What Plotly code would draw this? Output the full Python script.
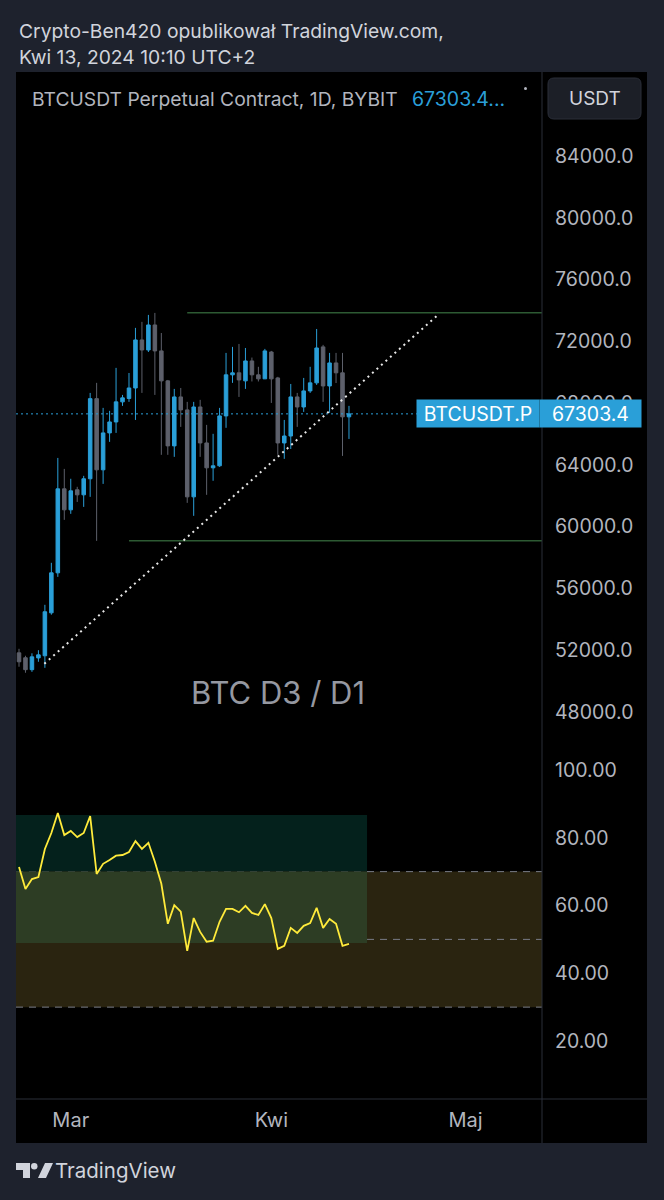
import plotly.graph_objects as go
import pandas as pd

W, H = 664, 1200
def X(p): return p / W
def Y(p): return 1 - p / H

FONT = "Inter"
UP = "#2a9fd8"
DOWN = "#5d606b"
TXT = "#b2b5be"
PAGE = "#1e222d"
GRIDLINE = "#2a2e39"

# ---------------- data ----------------
dates = pd.date_range("2024-02-22", periods=52, freq="D")
opens = [51830, 51510, 50740, 51500, 51640, 54420, 57010, 62450, 61090, 62390,
         62060, 63100, 68290, 63680, 66070, 66780, 68080, 68300, 68980, 72090,
         71440, 73060, 71380, 69440, 65230, 68400, 67560, 61930, 67750, 65420,
         63810, 63940, 67170, 69830, 69960, 69440, 70730, 69830, 69570, 71310,
         69630, 65420, 65870, 68400, 67750, 68790, 69310, 71640, 69110, 70600,
         69960, 67110]
highs = [52090, 51640, 51800, 52000, 54940, 57660, 64450, 63740, 63100, 62580,
         63290, 68660, 69310, 67690, 67500, 70280, 68530, 69950, 72870, 73260,
         73710, 73840, 72540, 69500, 68920, 68980, 68080, 68080, 68210, 66590,
         66010, 67690, 71250, 71640, 71830, 71570, 70950, 70350, 71510, 71380,
         69700, 66910, 69240, 68660, 69630, 70350, 72800, 71770, 71250, 71250,
         71250, 67820]
lows = [50930, 50540, 50600, 51250, 50860, 54300, 56750, 60440, 60830, 61600,
        61280, 61930, 59080, 62770, 65490, 66070, 67820, 68080, 66910, 68660,
        71310, 68530, 64650, 64650, 64520, 66460, 61540, 60700, 64520, 62060,
        62970, 63870, 66400, 69310, 68400, 68920, 69400, 69400, 69570, 68010,
        64650, 64390, 65030, 66460, 67430, 68660, 69180, 68080, 67370, 69300,
        64580, 65680]
closes = [51250, 50740, 51570, 51700, 54490, 57010, 62450, 61090, 62320, 62060,
          63100, 68290, 63680, 66070, 66780, 68080, 68340, 68980, 72090, 71440,
          73060, 71380, 69440, 65230, 68400, 67560, 61930, 67750, 65420, 63810,
          63940, 67170, 69830, 69960, 69500, 70730, 69830, 69570, 71380, 69570,
          65420, 65870, 68400, 67750, 68790, 69310, 71570, 69110, 70600, 69960,
          67110, 67303.4]
rsi = [71.4, 64.9, 67.8, 68.4, 76.7, 81.4, 87.3, 80.8, 82.0, 80.2,
       81.4, 86.4, 69.3, 72.3, 73.4, 74.7, 74.9, 75.8, 79.0, 76.7,
       78.5, 72.9, 66.4, 54.6, 60.1, 58.2, 46.6, 56.3, 52.2, 49.3,
       49.6, 55.2, 59.0, 59.0, 58.0, 59.9, 57.8, 57.2, 60.4, 56.3,
       47.2, 48.1, 53.4, 51.9, 54.0, 54.8, 59.3, 53.4, 56.0, 54.6,
       48.1, 48.7]

last_price = 67303.4
price_ticks = [48000, 52000, 56000, 60000, 64000, 68000, 72000, 76000, 80000, 84000]
rsi_ticks = [20, 40, 60, 80, 100]
rsi_levels = [70, 50, 30]
rsi_band = [30, 70]
month_ticks = ["2024-03-01", "2024-04-01", "2024-05-01"]
month_labels = ["Mar", "Kwi", "Maj"]

x_range = ["2024-02-21 12:52", "2024-05-12 20:00"]
price_range = [46510, 89439]
rsi_range = [2.88, 110.33]

# drawings
resistance = 73850
resistance_start = "2024-03-19"
support = 59080
support_start = "2024-03-10"
trend_x = ["2024-02-25 22:00", "2024-04-26 18:00"]
trend_y = [51120, 73710]
rsi_box_x = ["2024-02-21 12:52", "2024-04-15 19:00"]
rsi_box_y = [48.9, 86.7]

fig = go.Figure()

fig.add_trace(go.Scatter(x=[resistance_start, x_range[1]], y=[resistance, resistance],
                         mode="lines", line=dict(color="#2d5a33", width=1.5),
                         hoverinfo="skip", showlegend=False))
fig.add_trace(go.Scatter(x=[support_start, x_range[1]], y=[support, support],
                         mode="lines", line=dict(color="#2d5a33", width=1.5),
                         hoverinfo="skip", showlegend=False))
fig.add_trace(go.Scatter(x=x_range, y=[last_price, last_price], mode="lines",
                         line=dict(color=UP, width=1, dash="2px,3px"),
                         hoverinfo="skip", showlegend=False))

fig.add_trace(go.Candlestick(
    x=dates, open=opens, high=highs, low=lows, close=closes,
    increasing=dict(line=dict(color=UP, width=1), fillcolor=UP),
    decreasing=dict(line=dict(color=DOWN, width=1), fillcolor=DOWN),
    whiskerwidth=0, hoverinfo="skip", showlegend=False))

fig.add_trace(go.Scatter(x=trend_x, y=trend_y, mode="lines",
                         line=dict(color="#e8e8e8", width=2, dash="2px,4px"),
                         hoverinfo="skip", showlegend=False))

fig.add_trace(go.Scatter(x=dates, y=rsi, mode="lines", xaxis="x2", yaxis="y2",
                         line=dict(color="#ffeb3b", width=1.8),
                         hoverinfo="skip", showlegend=False))

shapes = []
shapes.append(dict(type="rect", xref="paper", yref="paper", x0=X(16), x1=X(647),
                   y0=Y(1143), y1=Y(72), fillcolor="#000000", line_width=0, layer="below"))
shapes.append(dict(type="rect", xref="x2 domain", yref="y2", x0=0, x1=1,
                   y0=rsi_band[0], y1=rsi_band[1], fillcolor="#2a2410", line_width=0, layer="below"))
shapes.append(dict(type="rect", xref="x2", yref="y2", x0=rsi_box_x[0], x1=rsi_box_x[1],
                   y0=max(rsi_box_y[0], rsi_band[1]), y1=rsi_box_y[1],
                   fillcolor="#04211c", line_width=0, layer="below"))
shapes.append(dict(type="rect", xref="x2", yref="y2", x0=rsi_box_x[0], x1=rsi_box_x[1],
                   y0=max(rsi_box_y[0], rsi_band[0]), y1=min(rsi_box_y[1], rsi_band[1]),
                   fillcolor="#2d3d24", line_width=0, layer="below"))
for lv in rsi_levels:
    shapes.append(dict(type="line", xref="x2 domain", yref="y2", x0=0, x1=1, y0=lv, y1=lv,
                       line=dict(color="#787b86", width=1, dash="7px,6px"), layer="below"))
shapes.append(dict(type="line", xref="paper", yref="paper", x0=X(542), x1=X(542),
                   y0=Y(1143), y1=Y(72), line=dict(color=GRIDLINE, width=1)))
shapes.append(dict(type="line", xref="paper", yref="paper", x0=X(16), x1=X(647),
                   y0=Y(1099), y1=Y(1099), line=dict(color=GRIDLINE, width=1)))

def rrect(x0, y0, x1, y1, r):
    return (f"M {X(x0+r)},{Y(y0)} L {X(x1-r)},{Y(y0)} Q {X(x1)},{Y(y0)} {X(x1)},{Y(y0+r)} "
            f"L {X(x1)},{Y(y1-r)} Q {X(x1)},{Y(y1)} {X(x1-r)},{Y(y1)} "
            f"L {X(x0+r)},{Y(y1)} Q {X(x0)},{Y(y1)} {X(x0)},{Y(y1-r)} "
            f"L {X(x0)},{Y(y0+r)} Q {X(x0)},{Y(y0)} {X(x0+r)},{Y(y0)} Z")
shapes.append(dict(type="path", xref="paper", yref="paper", path=rrect(548, 78, 641, 119, 6),
                   fillcolor="#1c1f27", line=dict(color="#2a2e39", width=1)))
shapes.append(dict(type="circle", xref="paper", yref="paper", x0=X(524), x1=X(527),
                   y0=Y(90), y1=Y(87), fillcolor="#b2b5be", line_width=0))
def poly(pts):
    return "M " + " L ".join(f"{X(a)},{Y(b)}" for a, b in pts) + " Z"
shapes.append(dict(type="path", xref="paper", yref="paper",
                   path=poly([(16, 1163), (30, 1163), (30, 1178), (23, 1178), (23, 1170), (16, 1170)]),
                   fillcolor="#d1d4dc", line_width=0))
shapes.append(dict(type="circle", xref="paper", yref="paper", x0=X(31), x1=X(37.5),
                   y0=Y(1169.5), y1=Y(1163), fillcolor="#d1d4dc", line_width=0))
shapes.append(dict(type="path", xref="paper", yref="paper",
                   path=poly([(38, 1178), (45, 1163), (53, 1163), (46, 1178)]),
                   fillcolor="#d1d4dc", line_width=0))

ann = []
ann.append(dict(xref="paper", yref="paper", x=X(17), y=Y(31), xanchor="left", yanchor="middle",
                text="Crypto-Ben420 opublikował TradingView.com,", showarrow=False,
                font=dict(family=FONT, size=19.3, color="#d1d4dc")))
ann.append(dict(xref="paper", yref="paper", x=X(17), y=Y(57), xanchor="left", yanchor="middle",
                text="Kwi 13, 2024 10:10 UTC+2", showarrow=False,
                font=dict(family=FONT, size=19.3, color="#d1d4dc")))
ann.append(dict(xref="paper", yref="paper", x=X(30), y=Y(99), xanchor="left", yanchor="middle",
                text="BTCUSDT Perpetual Contract, 1D, BYBIT", showarrow=False,
                font=dict(family=FONT, size=19.3, color=TXT)))
ann.append(dict(xref="paper", yref="paper", x=X(410), y=Y(99), xanchor="left", yanchor="middle",
                text=f"{last_price}...", showarrow=False,
                font=dict(family=FONT, size=19.5, color=UP)))
ann.append(dict(xref="paper", yref="paper", x=X(594.5), y=Y(98.5), xanchor="center", yanchor="middle",
                text="USDT", showarrow=False, font=dict(family=FONT, size=19, color="#d1d4dc")))
ann.append(dict(xref="paper", yref="y", x=X(478), y=last_price, xanchor="center", yanchor="middle",
                text="BTCUSDT.P", showarrow=False, bgcolor=UP, width=122, height=27, borderpad=0,
                font=dict(family=FONT, size=19.5, color="#ffffff")))
ann.append(dict(xref="paper", yref="y", x=X(590.5), y=last_price, xanchor="center", yanchor="middle",
                text=f"{last_price}", showarrow=False, bgcolor=UP, width=101, height=27, borderpad=0,
                font=dict(family=FONT, size=19.5, color="#ffffff")))
ann.append(dict(xref="paper", yref="paper", x=X(278), y=Y(692), xanchor="center", yanchor="middle",
                text="BTC D3 / D1", showarrow=False, font=dict(family=FONT, size=31, color="#9598a1")))
ann.append(dict(xref="paper", yref="paper", x=X(53), y=Y(1170), xanchor="left", yanchor="middle",
                text="TradingView", showarrow=False, font=dict(family=FONT, size=20.5, color="#d1d4dc")))

dom_x = [X(16), X(542)]
fig.update_layout(
    width=W, height=H, margin=dict(l=0, r=0, t=0, b=0),
    paper_bgcolor=PAGE, plot_bgcolor="rgba(0,0,0,0)",
    showlegend=False, boxgap=0.22,
    shapes=shapes, annotations=ann,
    xaxis=dict(domain=dom_x, range=x_range, type="date", anchor="y",
               showgrid=False, zeroline=False, showticklabels=False,
               rangeslider=dict(visible=False), fixedrange=True),
    yaxis=dict(domain=[Y(735), Y(72)], range=price_range, side="right", anchor="x",
               tickvals=price_ticks, tickformat=".1f", showgrid=False, zeroline=False,
               ticks="", ticklabelstandoff=12,
               tickfont=dict(family=FONT, size=19.5, color=TXT)),
    xaxis2=dict(domain=dom_x, range=x_range, type="date", anchor="y2",
                showgrid=False, zeroline=False, tickvals=month_ticks, ticktext=month_labels,
                ticks="", ticklabelstandoff=7,
                tickfont=dict(family=FONT, size=20, color=TXT)),
    yaxis2=dict(domain=[Y(1099), Y(735)], range=rsi_range, side="right", anchor="x2",
                tickvals=rsi_ticks, tickformat=".2f", showgrid=False, zeroline=False,
                ticks="", ticklabelstandoff=12,
                tickfont=dict(family=FONT, size=19.5, color=TXT)),
)

fig.write_html("out.html", config={"displayModeBar": False},
               post_script="document.body.style.margin='0';document.body.style.background='#1e222d';")
